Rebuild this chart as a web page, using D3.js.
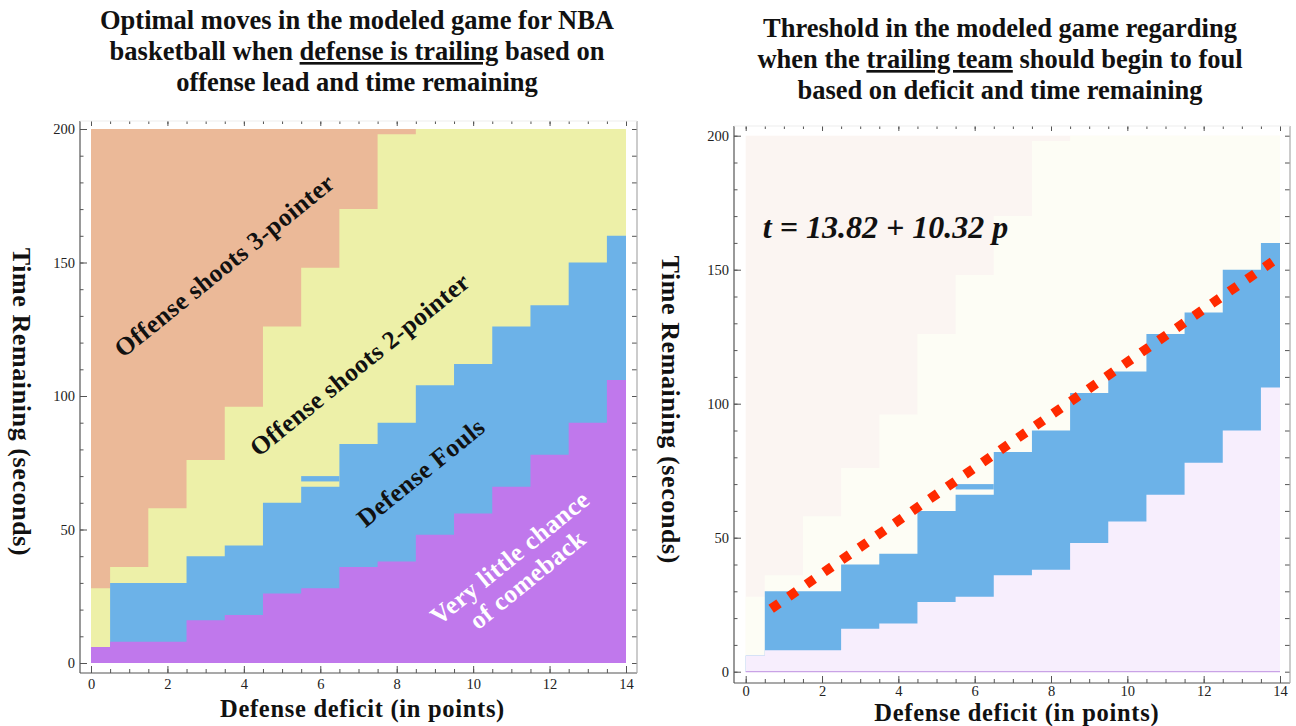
<!DOCTYPE html>
<html>
<head>
<meta charset="utf-8">
<script src="https://cdn.jsdelivr.net/npm/d3@7"></script>
<style>
  body { margin: 0; background: #fff; }
  svg { display: block; }
</style>
</head>
<body>
<script>
const width = 1296;
const height = 726;

// deficit in points, and the top (seconds remaining) of each move region
const deficits = [0, 1, 2, 3, 4, 5, 6, 7, 8, 9, 10, 11, 12, 13, 14];
const comebackTop = [6, 8, 8, 16, 18, 26, 28, 36, 38, 48, 56, 66, 78, 90, 106];
const foulTop = [6, 30, 30, 40, 44, 60, 66, 82, 90, 104, 112, 126, 134, 150, 160];
const twoPointTop = [28, 36, 58, 76, 96, 126, 148, 170, 198, 200, 200, 200, 200, 200, 200];
// the thin foul strip sitting inside the 2-pointer region at deficit 6
const foulStrip = [{ deficit: 6, from: 68, to: 70 }];

// fitted threshold line
const fitP = [0.77, 13.7];
const fitT = [24.5, 152];

const xTicks = [0, 2, 4, 6, 8, 10, 12, 14];
const yTicks = [0, 50, 100, 150, 200];

const serif = "'Liberation Serif', 'Times New Roman', serif";

const panels = [
  {
    x0: 91, x14: 626, y0: 663, y200: 129,
    frame: { l: 80, r: 637, t: 121, b: 673 },
    fill: { three: '#ebb998', two: '#edf0a8', foul: '#6cb2e8', comeback: '#c078ec' },
    titleX: 357, titleY: 29,
    title: [
      ['Optimal moves in the modeled game for NBA'],
      ['basketball when ', { u: 'defense is trailing' }, ' based on'],
      ['offense lead and time remaining'],
    ],
    yLabelX: 13,
    xLabelY: 717,
    tickPad: 6,
  },
  {
    x0: 745.7, x14: 1280, y0: 671.7, y200: 135.7,
    frame: { l: 734, r: 1290, t: 126, b: 683 },
    fill: { three: '#fbf5f2', two: '#fdfdf5', foul: '#6cb2e8', comeback: '#f7eefd' },
    titleX: 1000, titleY: 37,
    title: [
      ['Threshold in the modeled game regarding'],
      ['when the ', { u: 'trailing team' }, ' should begin to foul'],
      ['based on deficit and time remaining'],
    ],
    yLabelX: 662,
    xLabelY: 721,
    tickPad: 3,
  },
];

const svg = d3.select('body')
  .append('svg')
  .attr('width', width)
  .attr('height', height)
  .style('font-family', serif);

panels.forEach((p, pi) => {
  const x = d3.scaleLinear().domain([0, 14]).range([p.x0, p.x14]);
  const y = d3.scaleLinear().domain([0, 200]).range([p.y0, p.y200]);
  const g = svg.append('g');

  const cols = deficits.map((d, i) => ({
    a: Math.max(0, d - 0.5),
    b: Math.min(14, d + 0.5),
    comeback: comebackTop[i],
    foul: foulTop[i],
    two: twoPointTop[i],
  }));

  const step = key => d3.area()
    .x(d => x(d.x))
    .y0(y(0))
    .y1(d => y(d.v))(cols.flatMap(c => [{ x: c.a, v: c[key] }, { x: c.b, v: c[key] }]));

  // 3-pointer fills everything, the lower regions are stacked on top
  g.append('rect')
    .attr('x', x(0))
    .attr('y', y(200))
    .attr('width', x(14) - x(0))
    .attr('height', y(0) - y(200))
    .attr('fill', p.fill.three);

  g.append('path').attr('d', step('two')).attr('fill', p.fill.two);
  g.append('path').attr('d', step('foul')).attr('fill', p.fill.foul);

  g.selectAll('.strip')
    .data(foulStrip)
    .join('rect')
      .attr('class', 'strip')
      .attr('x', d => x(d.deficit - 0.5))
      .attr('width', d => x(d.deficit + 0.5) - x(d.deficit - 0.5))
      .attr('y', d => y(d.to))
      .attr('height', d => y(d.from) - y(d.to))
      .attr('fill', p.fill.foul);

  g.append('path').attr('d', step('comeback')).attr('fill', p.fill.comeback);

  if (pi === 1) {
    g.append('line')
      .attr('x1', x(0)).attr('x2', x(14))
      .attr('y1', y(0)).attr('y2', y(0))
      .attr('stroke', '#c9a3e6')
      .attr('stroke-width', 1.2);
  }

  // frame + ticks
  const f = p.frame;
  const tickColor = '#555';
  const minorX = d3.range(0, 14.01, 0.5);
  const minorY = d3.range(0, 200.1, 10);

  const axes = [
    [d3.axisBottom(x).tickValues(xTicks).tickSize(-7).tickPadding(p.tickPad), `translate(0,${f.b})`],
    [d3.axisBottom(x).tickValues(minorX).tickSize(-4).tickFormat(''), `translate(0,${f.b})`],
    [d3.axisLeft(y).tickValues(yTicks).tickSize(-7).tickPadding(5), `translate(${f.l},0)`],
    [d3.axisLeft(y).tickValues(minorY).tickSize(-3.5).tickFormat(''), `translate(${f.l},0)`],
    [d3.axisTop(x).tickValues(xTicks).tickSize(-5).tickFormat(''), `translate(0,${f.t})`],
    [d3.axisTop(x).tickValues(minorX).tickSize(-3).tickFormat(''), `translate(0,${f.t})`],
    [d3.axisRight(y).tickValues(minorY).tickSize(-5).tickFormat(''), `translate(${f.r},0)`],
  ];

  axes.forEach(([axis, transform]) => {
    const a = g.append('g')
      .attr('transform', transform)
      .call(axis);
    a.select('.domain').remove();
    a.selectAll('line').attr('stroke', tickColor);
    a.selectAll('text')
      .attr('fill', '#222')
      .style('font-family', serif)
      .style('font-size', '14.5px');
  });

  const frameLine = (x1, y1, x2, y2, c) => g.append('line')
    .attr('x1', x1).attr('y1', y1).attr('x2', x2).attr('y2', y2)
    .attr('stroke', c)
    .attr('stroke-width', 1.2);
  frameLine(f.l, f.t, f.l, f.b, '#555');
  frameLine(f.l, f.b, f.r, f.b, '#555');
  frameLine(f.r, f.t, f.r, f.b, '#aaa');
  frameLine(f.l, f.t, f.r, f.t, '#eee');

  // axis titles
  g.append('text')
    .attr('x', (x(0) + x(14)) / 2 + 4)
    .attr('y', p.xLabelY)
    .attr('text-anchor', 'middle')
    .style('font-size', '24.5px')
    .style('letter-spacing', '0.7px')
    .style('font-weight', 'bold')
    .attr('fill', '#111')
    .text('Defense deficit (in points)');

  g.append('text')
    .attr('transform', `translate(${p.yLabelX},${(y(0) + y(200)) / 2 + 6}) rotate(90)`)
    .attr('text-anchor', 'middle')
    .style('font-size', '26px')
    .style('letter-spacing', '0.6px')
    .style('font-weight', 'bold')
    .attr('fill', '#111')
    .text('Time Remaining (seconds)');

  // title
  const title = g.append('text')
    .attr('text-anchor', 'middle')
    .style('font-size', '26.5px')
    .style('font-weight', 'bold')
    .attr('fill', '#111');
  p.title.forEach((line, li) => {
    const t = title.append('tspan')
      .attr('x', p.titleX)
      .attr('y', p.titleY + li * 31);
    line.forEach(part => {
      if (typeof part === 'string') {
        t.append('tspan').text(part);
      } else {
        t.append('tspan').style('text-decoration', 'underline').text(part.u);
      }
    });
  });

  if (pi === 0) {
    const labels = [
      { lines: ['Offense shoots 3-pointer'], p: 3.5, t: 148.7, color: '#111' },
      { lines: ['Offense shoots 2-pointer'], p: 7.04, t: 111.6, color: '#111' },
      { lines: ['Defense Fouls'], p: 8.64, t: 71.2, color: '#111' },
      { lines: ['Very little chance', 'of comeback'], p: 11.2, t: 35.2, color: '#fff' },
    ];
    labels.forEach(l => {
      const txt = g.append('text')
        .attr('transform', `translate(${x(l.p)},${y(l.t)}) rotate(-39)`)
        .attr('text-anchor', 'middle')
        .style('font-size', '25.5px')
        .style('letter-spacing', '0.4px')
        .style('font-weight', 'bold')
        .attr('fill', l.color);
      l.lines.forEach((s, i) => {
        txt.append('tspan')
          .attr('x', 0)
          .attr('y', (i - (l.lines.length - 1) / 2) * 28 + 8)
          .text(s);
      });
    });
  } else {
    // dotted fit line, squares centred on the read dot positions
    const ax = x(fitP[0]), ay = y(fitT[0]);
    const bx = x(fitP[1]), by = y(fitT[1]);
    const len = Math.hypot(bx - ax, by - ay);
    const ux = (bx - ax) / len, uy = (by - ay) / len;
    const n = Math.round(len / 21.5);
    const period = len / n;
    const dash = 9.5;
    g.append('line')
      .attr('x1', ax - ux * dash / 2).attr('y1', ay - uy * dash / 2)
      .attr('x2', bx + ux * dash / 2).attr('y2', by + uy * dash / 2)
      .attr('stroke', '#ff2a00')
      .attr('stroke-width', 9.5)
      .attr('stroke-dasharray', `${dash} ${period - dash}`);

    g.append('text')
      .attr('x', x(0.45))
      .attr('y', y(161.8))
      .style('font-size', '32px')
      .style('font-weight', 'bold')
      .style('font-style', 'italic')
      .attr('fill', '#111')
      .text('t = 13.82 + 10.32 p');
  }
});
</script>
</body>
</html>
